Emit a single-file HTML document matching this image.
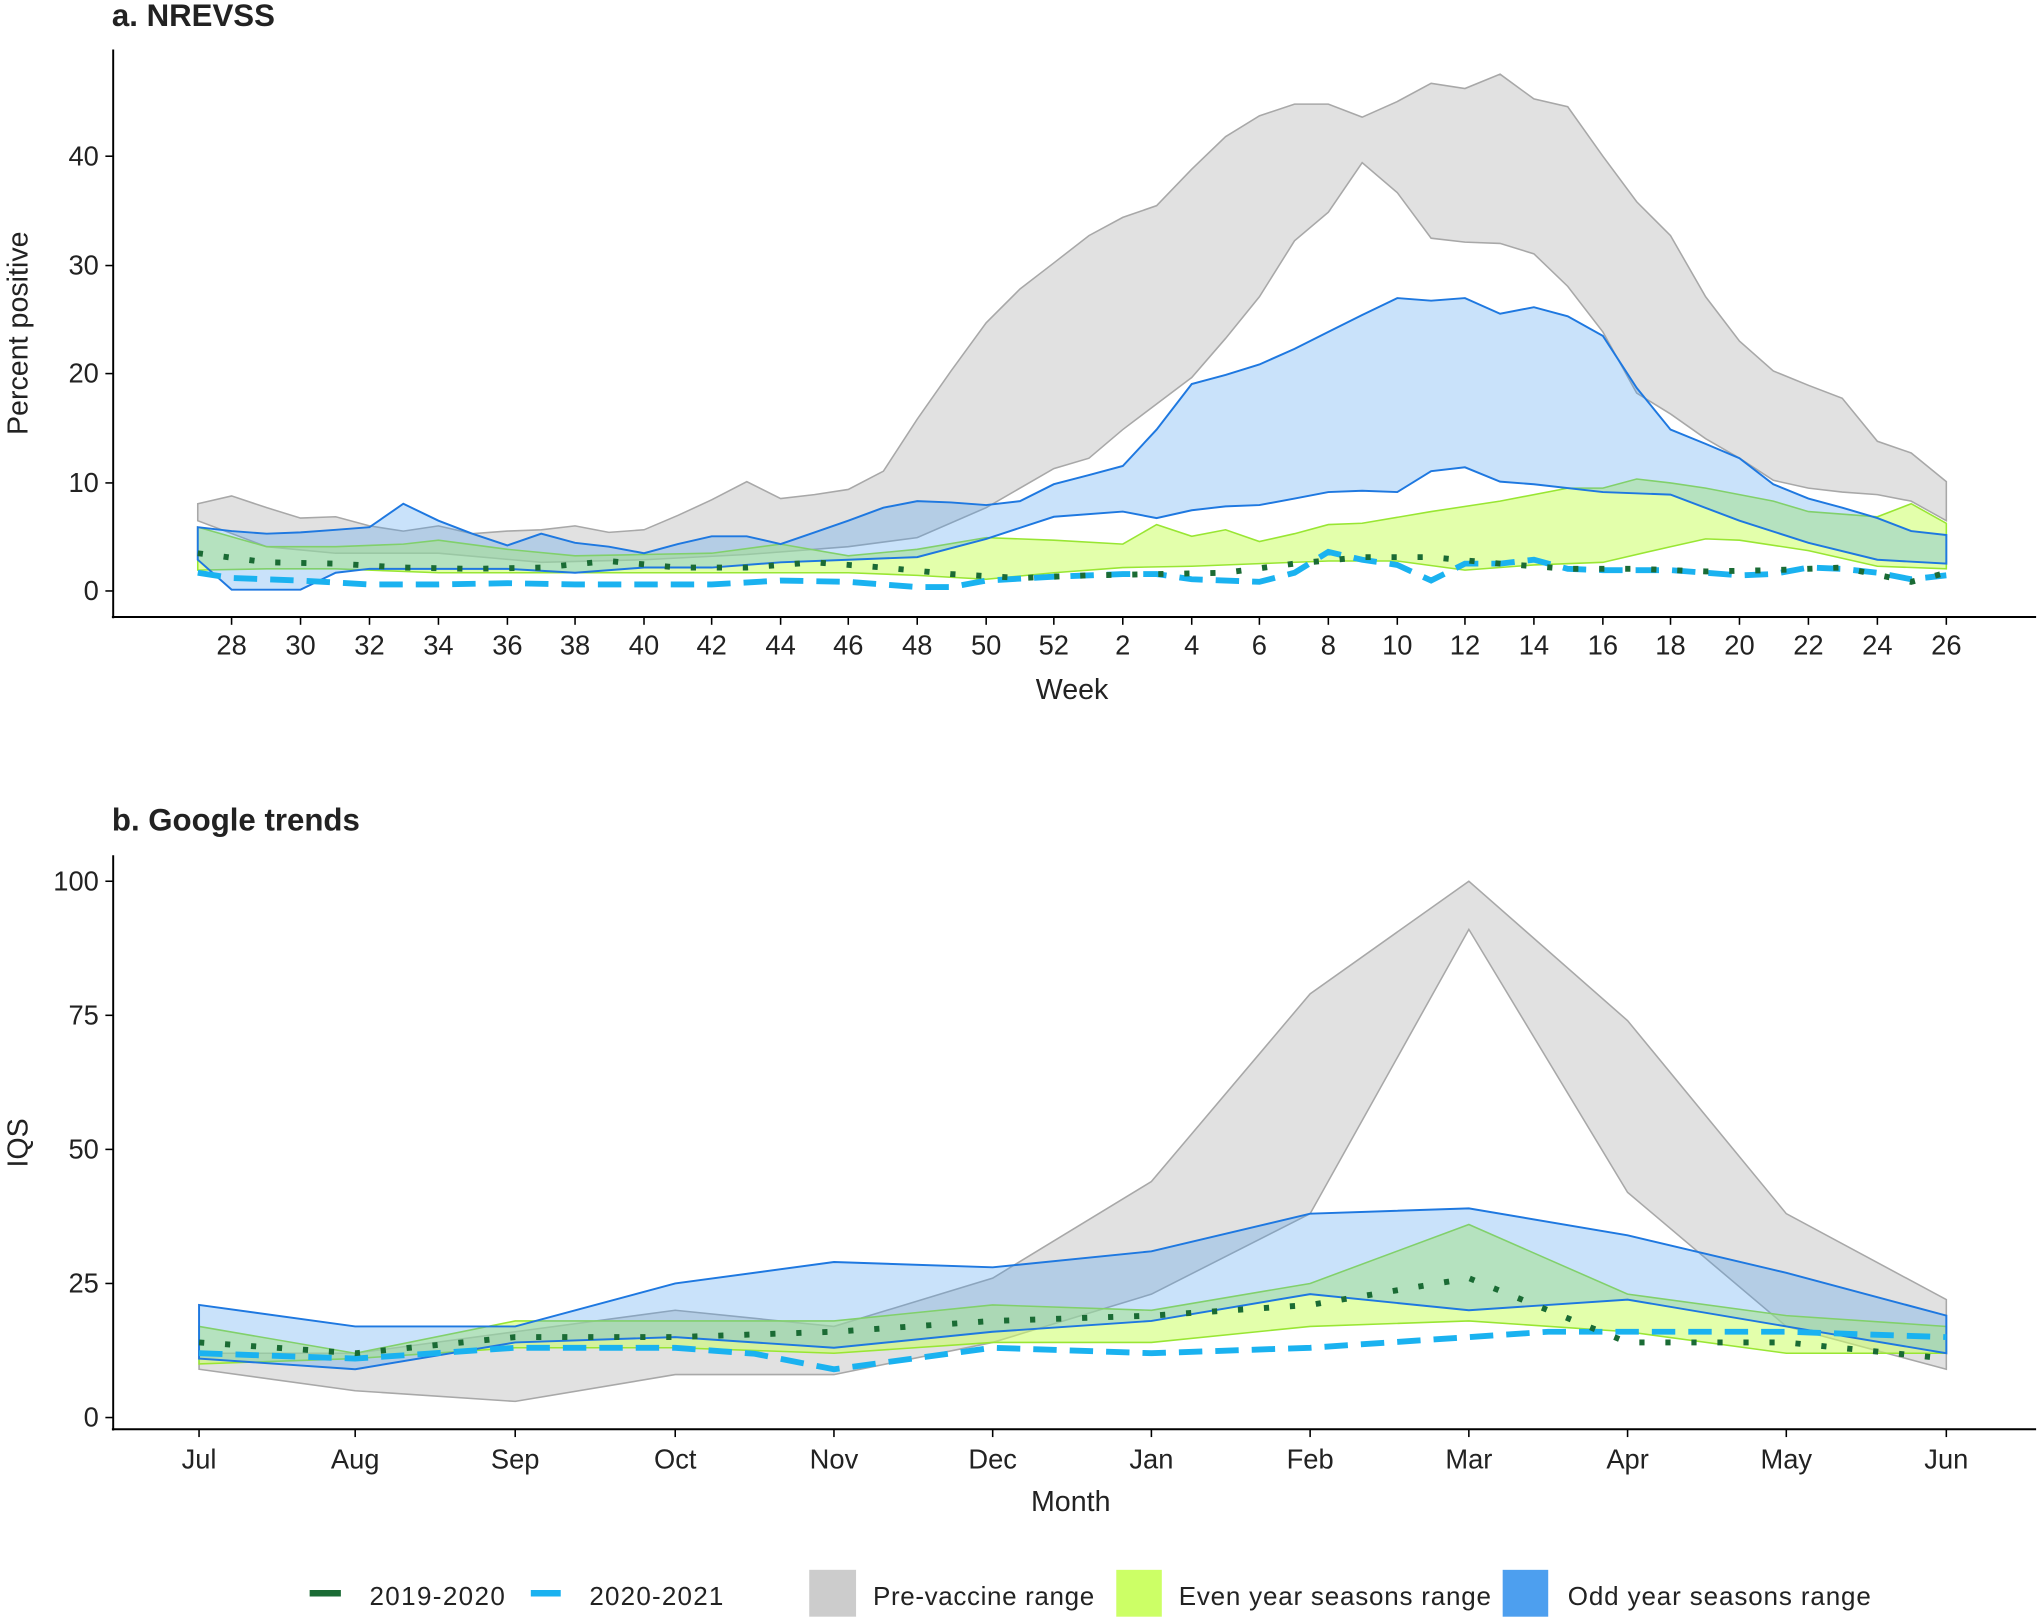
<!DOCTYPE html>
<html><head><meta charset="utf-8"><style>
html,body{margin:0;padding:0;background:#fff;}
svg{display:block;}
text{font-family:"Liberation Sans",sans-serif;fill:#222;}
</style></head><body>
<svg width="2040" height="1618" viewBox="0 0 1568 1243" preserveAspectRatio="none" xmlns="http://www.w3.org/2000/svg">
<rect width="1568" height="1243" fill="#fff"/>
<!-- Panel a -->
<text x="86" y="20" font-size="24" font-weight="bold" fill="#000">a. NREVSS</text>
<g>
<polygon fill="#c8c8c8" fill-opacity="0.55" stroke="#a8a8a8" stroke-width="1.2" points="152,387 178,381 205,390 231,398 258,397 284,404 310,408 337,404 363,410 390,408 416,407 442,404 468,409 495,407 521,396 547,384 574,370 600,383 626,380 652,376 679,362 705,322 731,285 758,248 784,222 810,202 837,181 863,167 889,158 916,130 942,105 968,89 995,80 1021,80 1047,90 1074,78 1100,64 1126,68 1153,57 1179,76 1205,82 1232,120 1258,155 1284,181 1311,228 1337,262 1363,285 1390,296 1416,306 1443,339 1469,348 1496,370 1496,400 1469,385 1443,380 1416,378 1390,375 1363,369 1337,352 1311,337 1284,318 1258,302 1232,255 1205,220 1179,195 1153,187 1126,186 1100,183 1074,148 1047,125 1021,163 995,185 968,228 942,260 916,290 863,330 837,352 810,360 758,390 705,413 652,420 574,426 495,430 416,432 337,425 258,425 205,420 152,400"/>
<polygon fill="#ccff66" fill-opacity="0.55" stroke="#99e633" stroke-width="1.2" points="152,405 205,420 258,420 310,418 337,415 390,422 442,427 495,426 547,425 600,418 652,427 705,422 758,413 810,415 863,418 889,403 916,412 942,407 968,416 995,410 1021,403 1047,402 1100,393 1153,385 1205,375 1232,375 1258,368 1284,371 1311,375 1363,385 1390,393 1443,397 1469,387 1496,402 1496,437 1443,435 1390,423 1337,415 1311,414 1284,420 1232,432 1179,434 1126,438 1074,431 1021,431 968,433 916,435 863,436 810,440 758,445 705,442 652,440 547,440 442,440 337,440 258,437 205,437 152,438"/>
<polygon fill="#4d9fef" fill-opacity="0.3" stroke="#1e78e0" stroke-width="1.5" points="152,405 178,408 205,410 231,409 258,407 284,405 310,387 337,400 363,410 390,419 416,410 442,417 468,420 495,425 521,418 547,412 574,412 600,418 626,409 652,400 679,390 705,385 731,386 758,388 784,385 810,372 837,365 863,358 889,330 916,295 942,288 968,280 995,268 1021,255 1047,242 1074,229 1100,231 1126,229 1153,241 1179,236 1205,243 1232,258 1258,298 1284,330 1311,341 1337,352 1363,372 1390,383 1416,390 1443,398 1469,408 1496,411 1496,433 1443,430 1390,417 1337,400 1284,380 1232,378 1179,372 1153,370 1126,359 1100,362 1074,378 1047,377 1021,378 995,383 968,388 942,389 916,392 889,398 863,393 810,397 758,414 705,428 652,430 600,432 547,436 495,436 442,440 390,437 337,437 284,437 258,440 231,453 205,453 178,453 152,430"/>
<polyline fill="none" stroke="#1ab2f0" stroke-width="4.5" stroke-dasharray="18,10" points="152,440 178,444 231,446 284,449 337,449 390,448 442,449 495,449 547,449 600,446 652,447 705,451 731,451 758,446 810,443 863,441 889,441 916,445 942,446 968,447 995,440 1021,424 1047,430 1074,434 1100,446 1126,433 1153,433 1179,430 1205,437 1232,438 1258,438 1284,438 1311,440 1337,442 1363,441 1390,436 1416,437 1443,440 1469,445 1496,442"/>
<polyline fill="none" stroke="#1a6b34" stroke-width="4.5" stroke-dasharray="4,16" points="152,425 205,432 258,433 310,436 363,437 416,436 468,431 521,436 574,436 626,432 679,436 731,441 784,444 837,442 889,441 942,440 995,433 1047,428 1100,428 1153,433 1205,437 1258,437 1311,439 1363,438 1416,436 1469,447 1496,440"/>
</g>
<line x1="87" y1="38" x2="87" y2="475" stroke="#000" stroke-width="1.5"/>
<line x1="86" y1="474" x2="1565" y2="474" stroke="#000" stroke-width="1.5"/>
<g stroke="#000" stroke-width="1.2">
<line x1="81" y1="454" x2="87" y2="454"/><line x1="81" y1="371" x2="87" y2="371"/><line x1="81" y1="287" x2="87" y2="287"/><line x1="81" y1="204" x2="87" y2="204"/><line x1="81" y1="120" x2="87" y2="120"/>
</g>
<g font-size="21" text-anchor="end" fill="#333">
<text x="76" y="461">0</text><text x="76" y="378">10</text><text x="76" y="294">20</text><text x="76" y="211">30</text><text x="76" y="127">40</text>
</g>
<text transform="translate(21,256) rotate(-90)" font-size="22" text-anchor="middle" fill="#000">Percent positive</text>
<g stroke="#000" stroke-width="1.2">
<line x1="178" y1="474" x2="178" y2="480"/><line x1="231" y1="474" x2="231" y2="480"/><line x1="284" y1="474" x2="284" y2="480"/><line x1="337" y1="474" x2="337" y2="480"/><line x1="390" y1="474" x2="390" y2="480"/><line x1="442" y1="474" x2="442" y2="480"/><line x1="495" y1="474" x2="495" y2="480"/><line x1="547" y1="474" x2="547" y2="480"/><line x1="600" y1="474" x2="600" y2="480"/><line x1="652" y1="474" x2="652" y2="480"/><line x1="705" y1="474" x2="705" y2="480"/><line x1="758" y1="474" x2="758" y2="480"/><line x1="810" y1="474" x2="810" y2="480"/><line x1="863" y1="474" x2="863" y2="480"/><line x1="916" y1="474" x2="916" y2="480"/><line x1="968" y1="474" x2="968" y2="480"/><line x1="1021" y1="474" x2="1021" y2="480"/><line x1="1074" y1="474" x2="1074" y2="480"/><line x1="1126" y1="474" x2="1126" y2="480"/><line x1="1179" y1="474" x2="1179" y2="480"/><line x1="1232" y1="474" x2="1232" y2="480"/><line x1="1284" y1="474" x2="1284" y2="480"/><line x1="1337" y1="474" x2="1337" y2="480"/><line x1="1390" y1="474" x2="1390" y2="480"/><line x1="1443" y1="474" x2="1443" y2="480"/><line x1="1496" y1="474" x2="1496" y2="480"/>
</g>
<g font-size="21" text-anchor="middle" fill="#333">
<text x="178" y="503">28</text><text x="231" y="503">30</text><text x="284" y="503">32</text><text x="337" y="503">34</text><text x="390" y="503">36</text><text x="442" y="503">38</text><text x="495" y="503">40</text><text x="547" y="503">42</text><text x="600" y="503">44</text><text x="652" y="503">46</text><text x="705" y="503">48</text><text x="758" y="503">50</text><text x="810" y="503">52</text><text x="863" y="503">2</text><text x="916" y="503">4</text><text x="968" y="503">6</text><text x="1021" y="503">8</text><text x="1074" y="503">10</text><text x="1126" y="503">12</text><text x="1179" y="503">14</text><text x="1232" y="503">16</text><text x="1284" y="503">18</text><text x="1337" y="503">20</text><text x="1390" y="503">22</text><text x="1443" y="503">24</text><text x="1496" y="503">26</text>
</g>
<text x="824" y="537" font-size="22" text-anchor="middle" fill="#000">Week</text>

<!-- Panel b -->
<text x="86" y="638" font-size="24" font-weight="bold" fill="#000">b. Google trends</text>
<g>
<polygon fill="#c8c8c8" fill-opacity="0.55" stroke="#a8a8a8" stroke-width="1.2" points="153,1039.6 273,1039.6 396,1023.1 519,1006.6 641,1019 763,981.9 885,907.7 1007,763.5 1129,677 1251,784.1 1373,932.4 1496,998.4 1496,1051.9 1373,1019 1251,916 1129,714 1007,932.4 885,994.2 763,1031.3 641,1056 519,1056 396,1076.6 273,1068.4 153,1051.9"/>
<polygon fill="#ccff66" fill-opacity="0.55" stroke="#99e633" stroke-width="1.2" points="153,1019 273,1039.6 396,1014.8 519,1014.8 641,1014.8 763,1002.5 885,1006.6 1007,986 1129,940.7 1251,994.2 1373,1010.7 1496,1019 1496,1039.6 1373,1039.6 1251,1023.1 1129,1014.8 1007,1019 885,1031.3 763,1031.3 641,1039.6 519,1035.4 396,1035.4 273,1043.7 153,1047.8"/>
<polygon fill="#4d9fef" fill-opacity="0.3" stroke="#1e78e0" stroke-width="1.5" points="153,1002.5 273,1019 396,1019 519,986 641,969.5 763,973.6 885,961.3 1007,932.4 1129,928.3 1251,949 1373,977.8 1496,1010.7 1496,1039.6 1373,1019 1251,998.4 1129,1006.6 1007,994.2 885,1014.8 763,1023.1 641,1035.4 519,1027.2 396,1031.3 273,1051.9 153,1043.7"/>
<polyline fill="none" stroke="#1ab2f0" stroke-width="4.5" stroke-dasharray="18,10" points="153,1039.6 273,1043.7 396,1035.4 519,1035.4 580,1040 641,1051.9 763,1035.4 885,1039.6 1007,1035.4 1129,1027.2 1190,1023.1 1251,1023.1 1373,1023.1 1496,1027.2"/>
<polyline fill="none" stroke="#1a6b34" stroke-width="4.5" stroke-dasharray="4,16" points="153,1031.3 273,1039.6 396,1027.2 519,1027.2 641,1023.1 763,1014.8 885,1010.7 1007,1002.5 1129,981.9 1251,1031.3 1373,1031.3 1496,1043.7"/>
</g>
<line x1="87" y1="657" x2="87" y2="1099" stroke="#000" stroke-width="1.5"/>
<line x1="86" y1="1098" x2="1565" y2="1098" stroke="#000" stroke-width="1.5"/>
<g stroke="#000" stroke-width="1.2">
<line x1="81" y1="1089" x2="87" y2="1089"/><line x1="81" y1="986" x2="87" y2="986"/><line x1="81" y1="883" x2="87" y2="883"/><line x1="81" y1="780" x2="87" y2="780"/><line x1="81" y1="677" x2="87" y2="677"/>
</g>
<g font-size="21" text-anchor="end" fill="#333">
<text x="76" y="1096">0</text><text x="76" y="993">25</text><text x="76" y="890">50</text><text x="76" y="787">75</text><text x="76" y="684">100</text>
</g>
<text transform="translate(21,878) rotate(-90)" font-size="22" text-anchor="middle" fill="#000">IQS</text>
<g stroke="#000" stroke-width="1.2">
<line x1="153" y1="1098" x2="153" y2="1104"/><line x1="273" y1="1098" x2="273" y2="1104"/><line x1="396" y1="1098" x2="396" y2="1104"/><line x1="519" y1="1098" x2="519" y2="1104"/><line x1="641" y1="1098" x2="641" y2="1104"/><line x1="763" y1="1098" x2="763" y2="1104"/><line x1="885" y1="1098" x2="885" y2="1104"/><line x1="1007" y1="1098" x2="1007" y2="1104"/><line x1="1129" y1="1098" x2="1129" y2="1104"/><line x1="1251" y1="1098" x2="1251" y2="1104"/><line x1="1373" y1="1098" x2="1373" y2="1104"/><line x1="1496" y1="1098" x2="1496" y2="1104"/>
</g>
<g font-size="21" text-anchor="middle" fill="#333">
<text x="153" y="1128">Jul</text><text x="273" y="1128">Aug</text><text x="396" y="1128">Sep</text><text x="519" y="1128">Oct</text><text x="641" y="1128">Nov</text><text x="763" y="1128">Dec</text><text x="885" y="1128">Jan</text><text x="1007" y="1128">Feb</text><text x="1129" y="1128">Mar</text><text x="1251" y="1128">Apr</text><text x="1373" y="1128">May</text><text x="1496" y="1128">Jun</text>
</g>
<text x="823" y="1161" font-size="22" text-anchor="middle" fill="#000">Month</text>

<!-- Legend -->
<line x1="238" y1="1224" x2="262" y2="1224" stroke="#1a6b34" stroke-width="5"/>
<text x="284" y="1233" font-size="20" fill="#000" textLength="104">2019-2020</text>
<line x1="408" y1="1224" x2="431" y2="1224" stroke="#1ab2f0" stroke-width="5"/>
<text x="453" y="1233" font-size="20" fill="#000" textLength="103">2020-2021</text>
<rect x="622" y="1206" width="36" height="36" fill="#cccccc"/>
<text x="671" y="1233" font-size="20" fill="#000" textLength="170">Pre-vaccine range</text>
<rect x="858" y="1206" width="35" height="36" fill="#ccff66"/>
<text x="906" y="1233" font-size="20" fill="#000" textLength="240">Even year seasons range</text>
<rect x="1155" y="1206" width="35" height="36" fill="#4d9fef"/>
<text x="1205" y="1233" font-size="20" fill="#000" textLength="233">Odd year seasons range</text>
</svg>
</body></html>
